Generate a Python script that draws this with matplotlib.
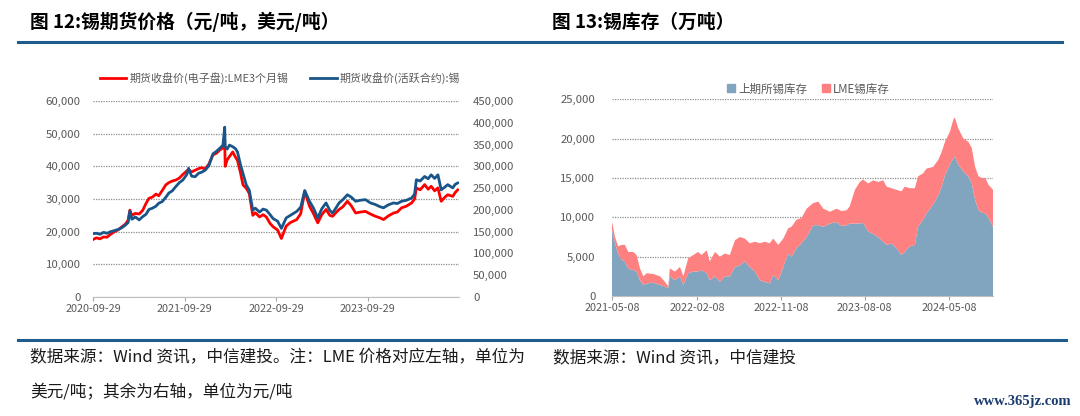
import matplotlib

matplotlib.use("Agg")
import matplotlib.pyplot as plt
import matplotlib.dates as mdates
import numpy as np
import pandas as pd
from matplotlib.lines import Line2D
from matplotlib.ticker import FuncFormatter, MultipleLocator

plt.rcParams["font.family"] = ["Noto Sans CJK SC", "DejaVu Sans"]

# ── Fig 12: tin futures close (LME USD/t left axis, SHFE CNY/t right axis) ──
price_dates = [
    "2020-09-29", "2020-10-13", "2020-10-27", "2020-11-10", "2020-11-24",
    "2020-12-08", "2020-12-22", "2021-01-08", "2021-01-22", "2021-02-05",
    "2021-02-16", "2021-02-23", "2021-03-03", "2021-03-17", "2021-04-01",
    "2021-04-15", "2021-04-28", "2021-05-10", "2021-05-24", "2021-06-07",
    "2021-06-18", "2021-07-02", "2021-07-16", "2021-07-28", "2021-08-11",
    "2021-08-25", "2021-09-08", "2021-09-22", "2021-10-08", "2021-10-15",
    "2021-10-27", "2021-11-10", "2021-11-24", "2021-12-06", "2021-12-20",
    "2022-01-04", "2022-01-20", "2022-02-03", "2022-02-16", "2022-03-01",
    "2022-03-08", "2022-03-10", "2022-03-18", "2022-03-27", "2022-04-09",
    "2022-04-20", "2022-04-28", "2022-05-10", "2022-05-20", "2022-06-02",
    "2022-06-14", "2022-06-28", "2022-07-08", "2022-07-25", "2022-08-08",
    "2022-08-21", "2022-09-05", "2022-09-17", "2022-10-05", "2022-10-20",
    "2022-11-08", "2022-11-25", "2022-12-20", "2023-01-05", "2023-01-21",
    "2023-02-09", "2023-02-25", "2023-03-14", "2023-03-30", "2023-04-16",
    "2023-05-01", "2023-05-12", "2023-05-25", "2023-06-07", "2023-06-22",
    "2023-07-10", "2023-07-25", "2023-08-12", "2023-08-30", "2023-09-20",
    "2023-10-10", "2023-10-30", "2023-11-15", "2023-12-01", "2023-12-20",
    "2024-01-10", "2024-01-25", "2024-02-11", "2024-03-01", "2024-03-22",
    "2024-04-03", "2024-04-10", "2024-04-25", "2024-05-13", "2024-05-27",
    "2024-06-08", "2024-06-22", "2024-07-05", "2024-07-18", "2024-08-01",
    "2024-08-13", "2024-09-02", "2024-09-12", "2024-09-22",
]
lme_usd = [
    17600, 18100, 17800, 18400, 18300, 19200, 19900, 20600, 21500, 22300,
    23500, 26600, 25000, 25600, 25400, 26500, 28600, 30200, 30600, 31500,
    31000, 32600, 34300, 35000, 35500, 35800, 36400, 37500, 38600, 39000,
    38300, 38800, 39300, 39600, 39200, 40700, 43500, 44000, 45000, 45600,
    47900, 40000, 42000, 43000, 44400, 42800, 41800, 38000, 34300, 33300,
    31700, 25000, 25800, 24500, 25200, 24500, 22500, 21500, 20500, 17900,
    21700, 22800, 23700, 25500, 32300, 27800, 25500, 22700, 25200, 26800,
    25000, 24700, 25800, 26800, 27600, 29300, 28000, 25700, 26000, 26200,
    25400, 24700, 24300, 23700, 24800, 25700, 26000, 27300, 27800, 28800,
    30000, 33400, 32800, 34400, 33000, 33900, 32500, 33400, 29300, 30500,
    31300, 30800, 32000, 32800,
]
shfe_cny = [
    145500, 146250, 144000, 148500, 146250, 150000, 152250, 155250, 159000, 165000,
    171000, 197250, 178500, 183750, 177000, 184500, 189750, 201000, 204000, 208500,
    215250, 219000, 228750, 238500, 243750, 253500, 262500, 268500, 281250, 295500,
    277500, 276000, 284250, 286500, 291000, 301500, 328500, 334500, 341250, 348750,
    390000, 345000, 339750, 348750, 345000, 340500, 333000, 303750, 283500, 257250,
    245250, 199500, 204000, 195000, 201750, 199500, 189000, 180000, 174000, 157500,
    181500, 187500, 196500, 206250, 244500, 219750, 204000, 181500, 202500, 216000,
    198750, 192750, 204000, 216000, 223500, 234750, 229500, 219750, 222000, 223500,
    216000, 212250, 207750, 204750, 211500, 216000, 214500, 219750, 222000, 227250,
    236250, 269250, 266250, 276750, 271500, 280500, 272250, 280500, 246000, 252000,
    258000, 250500, 258750, 261750,
]
price_ticks = ["2020-09-29", "2021-09-29", "2022-09-29", "2023-09-29"]

# ── Fig 13: tin inventories (t), stacked: SHFE bottom, LME on top ──
stock_dates = [
    "2021-05-08", "2021-05-18", "2021-05-28", "2021-06-08", "2021-06-19",
    "2021-06-30", "2021-07-16", "2021-07-27", "2021-08-07", "2021-08-18",
    "2021-08-29", "2021-09-19", "2021-10-11", "2021-10-27", "2021-11-07",
    "2021-11-12", "2021-11-29", "2021-12-15", "2021-12-26", "2022-01-11",
    "2022-01-27", "2022-02-12", "2022-02-23", "2022-03-12", "2022-03-22",
    "2022-04-08", "2022-04-24", "2022-05-10", "2022-05-26", "2022-06-12",
    "2022-06-28", "2022-07-14", "2022-07-30", "2022-08-16", "2022-09-01",
    "2022-09-17", "2022-10-03", "2022-10-14", "2022-10-31", "2022-11-16",
    "2022-12-02", "2022-12-13", "2022-12-29", "2023-01-14", "2023-01-31",
    "2023-02-21", "2023-03-10", "2023-03-26", "2023-04-17", "2023-05-08",
    "2023-05-24", "2023-06-10", "2023-06-20", "2023-07-07", "2023-07-23",
    "2023-08-03", "2023-08-19", "2023-09-04", "2023-09-20", "2023-10-07",
    "2023-10-18", "2023-11-03", "2023-11-19", "2023-12-05", "2023-12-16",
    "2024-01-01", "2024-01-18", "2024-01-28", "2024-02-14", "2024-02-25",
    "2024-03-17", "2024-04-03", "2024-04-14", "2024-04-25", "2024-05-11",
    "2024-05-22", "2024-05-27", "2024-06-07", "2024-06-24", "2024-07-10",
    "2024-07-21", "2024-08-01", "2024-08-12", "2024-08-23", "2024-09-03",
    "2024-09-14", "2024-09-28",
]
shfe_stock = [
    8400, 6700, 5400, 4600, 4400, 3500, 3300, 3100, 2000, 1400,
    1600, 1700, 1400, 1200, 1000, 2500, 2000, 2500, 1400, 2900,
    3100, 3100, 3300, 2900, 2000, 2500, 1800, 2500, 2500, 3700,
    3900, 4400, 3700, 3100, 2000, 1800, 1600, 2700, 2000, 3700,
    5400, 5000, 6100, 6700, 7500, 9000, 9000, 8800, 9200, 9400,
    8900, 9000, 9200, 9200, 9200, 9300, 8200, 7900, 7500, 6900,
    6500, 6700, 6100, 5200, 5600, 6300, 6500, 8800, 9700, 10500,
    11600, 12800, 13900, 15400, 16700, 17500, 17700, 16700, 15800, 15200,
    14300, 12200, 10900, 10600, 10500, 9900, 8800,
]
lme_stock = [
    1050, 800, 900, 1900, 2100, 2100, 2300, 2100, 1500, 1100,
    1300, 1100, 1100, 600, 200, 1000, 1100, 1200, 1100, 1900,
    2100, 2500, 1900, 2900, 2400, 3100, 3200, 2900, 2700, 3400,
    3600, 2900, 3000, 3800, 4700, 5100, 5100, 4600, 4500, 3600,
    3200, 3800, 3600, 3200, 3600, 2800, 3000, 2300, 1500, 1700,
    1900, 1900, 2200, 4300, 5300, 5500, 6100, 6800, 7000, 7800,
    7400, 7000, 7400, 8100, 8300, 7400, 7200, 6400, 5900, 5700,
    4800, 4500, 4400, 4200, 4200, 4900, 5000, 4600, 4200, 4400,
    4500, 4200, 4300, 4400, 4500, 4200, 4700,
]
stock_ticks = ["2021-05-08", "2022-02-08", "2022-11-08", "2023-08-08", "2024-05-08"]

RED = "#ff0000"
NAVY = "#1a5589"
SHFE_FILL = "#82a5bf"
LME_FILL = "#ff8080"
RULE = "#1f5c8e"
TICK_GRAY = "#595959"
GRID = dict(color="#8c8c8c", linestyle=(0, (1, 1)), linewidth=0.9)

thousands = FuncFormatter(lambda v, _: f"{v:,.0f}")


def style_date_axis(ax, ticks, lo, hi):
    ax.set_xlim(pd.Timestamp(lo), pd.Timestamp(hi))
    ax.set_xticks(pd.to_datetime(ticks))
    ax.xaxis.set_major_formatter(mdates.DateFormatter("%Y-%m-%d"))
    ax.tick_params(axis="x", length=3, width=0.8, color="#a6a6a6",
                   labelsize=7.8, labelcolor=TICK_GRAY, pad=2)
    ax.tick_params(axis="y", length=0, labelsize=8.2, labelcolor=TICK_GRAY)
    for side in ("top", "right", "left"):
        ax.spines[side].set_visible(False)
    ax.spines["bottom"].set_color("#bfbfbf")
    ax.grid(axis="y", **GRID)
    ax.set_axisbelow(True)


fig = plt.figure(figsize=(10.8, 4.16), dpi=100)

# headings and rules
fig.text(30 / 1080, 1 - 22 / 416, "图 12:锡期货价格（元/吨，美元/吨）",
         fontsize=13.5, fontweight="bold", va="center", ha="left")
fig.text(552 / 1080, 1 - 22 / 416, "图 13:锡库存（万吨）",
         fontsize=13.5, fontweight="bold", va="center", ha="left")
fig.add_artist(Line2D([18 / 1080, 1062 / 1080], [1 - 42 / 416] * 2,
                      color=RULE, lw=2.2, transform=fig.transFigure))
fig.add_artist(Line2D([18 / 1080, 1066 / 1080], [1 - 340 / 416] * 2,
                      color=RULE, lw=2.2, transform=fig.transFigure))

# left panel
ax = fig.add_axes([93 / 1080, 1 - 297 / 416, 366 / 1080, 196 / 416])
px = pd.to_datetime(price_dates)
ax.plot(px, lme_usd, color=RED, lw=2.0, label="期货收盘价(电子盘):LME3个月锡")
ax.set_ylim(0, 60000)
ax.yaxis.set_major_locator(MultipleLocator(10000))
ax.yaxis.set_major_formatter(thousands)
style_date_axis(ax, price_ticks, "2020-09-29", "2024-09-27")
ax.tick_params(axis="y", pad=9)

ax2 = ax.twinx()
ax2.plot(px, shfe_cny, color=NAVY, lw=2.0, label="期货收盘价(活跃合约):锡")
ax2.set_ylim(0, 450000)
ax2.yaxis.set_major_locator(MultipleLocator(50000))
ax2.yaxis.set_major_formatter(thousands)
for side in ("top", "right", "left", "bottom"):
    ax2.spines[side].set_visible(False)
ax2.tick_params(axis="y", length=0, labelsize=8.2, labelcolor=TICK_GRAY, pad=10)

h1, l1 = ax.get_legend_handles_labels()
h2, l2 = ax2.get_legend_handles_labels()
ax2.legend(h1 + h2, l1 + l2, ncol=2, frameon=False, loc="center",
           bbox_to_anchor=(280 / 1080, 1 - 78 / 416),
           bbox_transform=fig.transFigure, fontsize=7.9, labelcolor=TICK_GRAY,
           handlelength=2.4, handletextpad=0.3, columnspacing=2.0)

# right panel
bx = fig.add_axes([612 / 1080, 1 - 296 / 416, 381 / 1080, 196.7 / 416])
sx = pd.to_datetime(stock_dates)
bx.stackplot(sx, shfe_stock, lme_stock, colors=[SHFE_FILL, LME_FILL],
             labels=["上期所锡库存", "LME锡库存"], linewidth=0)
bx.set_ylim(0, 25000)
bx.yaxis.set_major_locator(MultipleLocator(5000))
bx.yaxis.set_major_formatter(thousands)
style_date_axis(bx, stock_ticks, "2021-05-08", "2024-09-28")
bx.tick_params(axis="y", pad=12)

sq = [Line2D([], [], marker="s", ls="none", ms=6, color=c)
      for c in (SHFE_FILL, LME_FILL)]
bx.legend(sq, ["上期所锡库存", "LME锡库存"], ncol=2, frameon=False, loc="center",
          bbox_to_anchor=(808 / 1080, 1 - 89 / 416),
          bbox_transform=fig.transFigure, fontsize=8.3, labelcolor=TICK_GRAY,
          handlelength=0.8, handletextpad=0.2, columnspacing=1.2)

# source notes
note = dict(fontsize=12, style="italic", color="#1a1a1a", va="center", ha="left")
fig.text(30 / 1080, 1 - 358 / 416,
         "数据来源：Wind 资讯，中信建投。注：LME 价格对应左轴，单位为", **note)
fig.text(30 / 1080, 1 - 393 / 416, "美元/吨；其余为右轴，单位为元/吨", **note)
fig.text(553 / 1080, 1 - 358 / 416, "数据来源：Wind 资讯，中信建投", **note)
fig.text(1072 / 1080, 1 - 401 / 416, "www.365jz.com", fontsize=10.5,
         fontweight="bold", family=["Liberation Serif", "DejaVu Serif"],
         color="#1b3b6f", va="center", ha="right")

fig.savefig("out.png", dpi=100)
